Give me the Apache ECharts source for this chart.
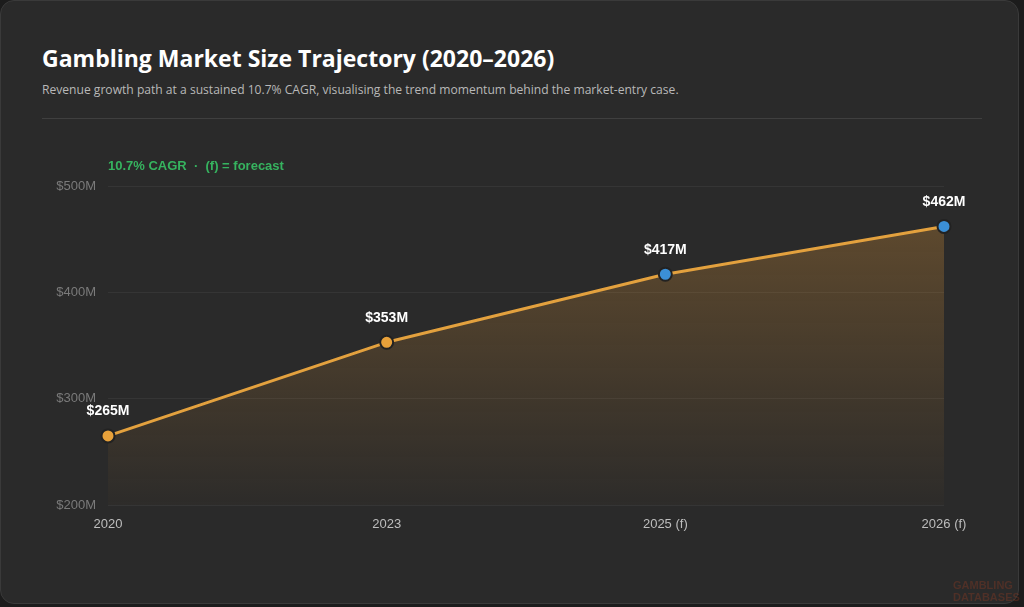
<!DOCTYPE html>
<html>
<head>
<meta charset="utf-8">
<script src="https://cdn.jsdelivr.net/npm/echarts@6/dist/echarts.min.js"></script>
<style>
  html, body { margin: 0; padding: 0; background: #1c1c1c; width: 1024px; height: 607px; overflow: hidden; }
  #card { position: absolute; left: 0; top: 0; width: 1019px; height: 604px; background: #2a2a2a; border: 1px solid #3a3a3a; border-radius: 14px; box-sizing: border-box; }
  #title { position: absolute; left: 42px; top: 42px; margin: 0; font-family: "Open Sans", "Noto Sans", sans-serif; font-weight: 700; font-size: 23px; color: #ffffff; letter-spacing: 0; }
  #sub { position: absolute; left: 42px; top: 81px; margin: 0; font-family: "Open Sans", "Noto Sans", sans-serif; font-size: 12.1px; color: #b8b8b8; }
  #rule { position: absolute; left: 42px; top: 118px; width: 940px; height: 1px; background: #3f3f3f; }
  #chart { position: absolute; left: 0; top: 0; width: 1024px; height: 607px; }
</style>
</head>
<body>
<div id="card"></div>
<h1 id="title">Gambling Market Size Trajectory (2020–2026)</h1>
<p id="sub">Revenue growth path at a sustained 10.7% CAGR, visualising the trend momentum behind the market-entry case.</p>
<div id="rule"></div>
<div id="chart"></div>
<script>
const categories = ['2020', '2023', '2025 (f)', '2026 (f)'];
const values = [265, 353, 417, 462];
const forecast = [false, false, true, true];
const yMin = 200, yMax = 500, yStep = 100;
const annotation = '10.7% CAGR  ·  (f) = forecast';

const chart = echarts.init(document.getElementById('chart'), null, { renderer: 'canvas' });
const points = values.map((v, i) => ({
  value: v,
  itemStyle: { color: forecast[i] ? '#3b8fd6' : '#e8a13a', borderColor: '#222222', borderWidth: 2 }
}));
chart.setOption({
  backgroundColor: 'transparent',
  animation: false,
  grid: { left: 108, right: 80, top: 186, bottom: 102 },
  graphic: [
    { type: 'text', left: 108, top: 160, style: { text: annotation, fill: '#36b35f', font: 'bold 13px "Liberation Sans", Arial, sans-serif' } },
    { type: 'text', left: 953, top: 580, style: { text: 'GAMBLING\nDATABASES', fill: 'rgba(150,60,35,0.35)', font: 'bold 11px "Liberation Sans", Arial, sans-serif', lineHeight: 12 } }
  ],
  xAxis: {
    type: 'category',
    data: categories,
    boundaryGap: false,
    axisLine: { show: false },
    axisTick: { show: false },
    axisLabel: { color: '#bdbdbd', fontSize: 13, margin: 13, fontFamily: '"Liberation Sans", Arial, sans-serif' },
    splitLine: { show: false }
  },
  yAxis: {
    type: 'value',
    min: yMin, max: yMax, interval: yStep,
    axisLine: { show: false },
    axisTick: { show: false },
    axisLabel: { color: '#7a7a7a', fontSize: 13, margin: 12, formatter: v => '$' + v + 'M', fontFamily: '"Liberation Sans", Arial, sans-serif' },
    splitLine: { lineStyle: { color: '#353535', width: 1 } }
  },
  series: [{
    type: 'line',
    data: points,
    symbol: 'circle',
    symbolSize: 13,
    lineStyle: { color: '#e3a13e', width: 3 },
    label: {
      show: true, position: 'top', distance: 10,
      formatter: p => '$' + p.value + 'M',
      color: '#ffffff', fontWeight: 'bold', fontSize: 14, fontFamily: '"Liberation Sans", Arial, sans-serif'
    },
    areaStyle: {
      color: new echarts.graphic.LinearGradient(0, 0, 0, 1, [
        { offset: 0, color: 'rgba(205,140,55,0.45)' },
        { offset: 1, color: 'rgba(205,140,55,0.03)' }
      ])
    },
    z: 3
  }]
});
</script>
</body>
</html>
